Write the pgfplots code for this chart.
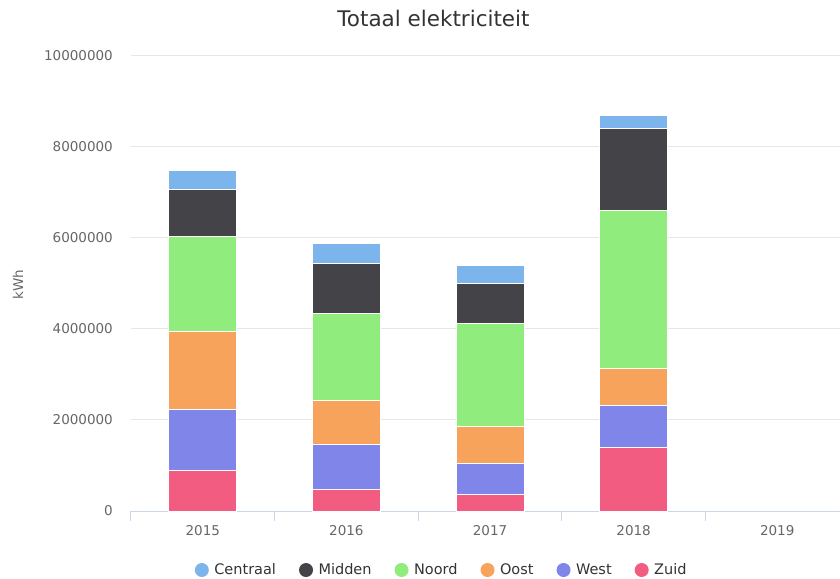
\documentclass[border=0pt]{standalone}
\usepackage{fontspec}
\setmainfont{DejaVu Sans}
\usepackage{pgfplots}
\usepackage{pgfplotstable}
\pgfplotsset{compat=1.18}

\definecolor{cCentraal}{HTML}{7CB5EC}
\definecolor{cMidden}{HTML}{434348}
\definecolor{cNoord}{HTML}{90ED7D}
\definecolor{cOost}{HTML}{F7A35C}
\definecolor{cWest}{HTML}{8085E9}
\definecolor{cZuid}{HTML}{F15C80}
\definecolor{gridc}{HTML}{E6E6E6}
\definecolor{xaxisc}{HTML}{CCD6EB}
\definecolor{labelc}{HTML}{666666}
\definecolor{titlec}{HTML}{333333}

% kWh per regio, x = 0..3 voor 2015..2018
\pgfplotstableread{
x Zuid West Oost Noord Midden Centraal
0 895000 1331000 1715000 2088000 1026000 418000
1 462000 989000 967000 1927000 1099000 440000
2 352000 696000 805000 2272000 879000 387000
3 1400000 908000 828000 3479000 1781000 307000
}\elek

\begin{document}
\begin{tikzpicture}
\begin{axis}[
  scale only axis, width=709bp, height=455bp,
  ybar stacked, bar width=68bp,
  xmin=-0.5, xmax=4.437, ymin=0, ymax=10000000,
  xtick={0,1,2,3,4}, xticklabels={2015,2016,2017,2018,2019},
  minor xtick={-0.5,0.5,1.5,2.5,3.5},
  ytick={0,2000000,4000000,6000000,8000000,10000000},
  scaled y ticks=false,
  /pgf/number format/assume math mode=true,
  yticklabel style={/pgf/number format/fixed, /pgf/number format/1000 sep={},
    anchor=east, inner sep=0pt, xshift=-18bp},
  xticklabel style={anchor=base, yshift=-24bp},
  tick label style={font=\fontsize{13.5bp}{16bp}\selectfont, text=labelc},
  axis x line=bottom, axis y line=left,
  x axis line style={color=xaxisc, line width=1bp, -},
  y axis line style={draw=none},
  tick align=outside, major tick length=0pt, minor tick length=10bp,
  xtick style={color=xaxisc, line width=1bp},
  ytick style={draw=none},
  ymajorgrids, major grid style={color=gridc, line width=1bp},
  ylabel={kWh},
  ylabel style={at={(axis description cs:-0.1594,0.497)}, anchor=center,
    font=\fontsize{13.5bp}{16bp}\selectfont, text=labelc},
  title={Totaal elektriciteit},
  every axis title shift=0pt,
  title style={at={(axis description cs:0.4267,1.0835)}, anchor=center,
    font=\fontsize{21.5bp}{25bp}\selectfont, text=titlec},
  every axis plot/.append style={draw=white, line width=1bp},
  reverse legend,
  legend image code/.code={\fill[#1, draw=none] (7bp,0bp) circle (7bp);
    \path (17bp,0bp);},
  legend style={at={(axis description cs:0.4382,-0.1297)}, anchor=center,
    draw=none, fill=none, legend columns=-1,
    font=\fontsize{14.5bp}{17bp}\selectfont, text=titlec,
    /tikz/every even column/.append style={column sep=21bp}},
]
\addplot[fill=cZuid] table[x=x, y=Zuid] {\elek};
\addplot[fill=cWest] table[x=x, y=West] {\elek};
\addplot[fill=cOost] table[x=x, y=Oost] {\elek};
\addplot[fill=cNoord] table[x=x, y=Noord] {\elek};
\addplot[fill=cMidden] table[x=x, y=Midden] {\elek};
\addplot[fill=cCentraal] table[x=x, y=Centraal] {\elek};
\legend{Zuid,West,Oost,Noord,Midden,Centraal}
\coordinate (sw) at (rel axis cs:0,0);
\coordinate (ne) at (rel axis cs:1,1);
\end{axis}
\pgfresetboundingbox
\path[use as bounding box] ([xshift=-131bp,yshift=-68bp]sw) rectangle ([yshift=56bp]ne);
\end{tikzpicture}
\end{document}
